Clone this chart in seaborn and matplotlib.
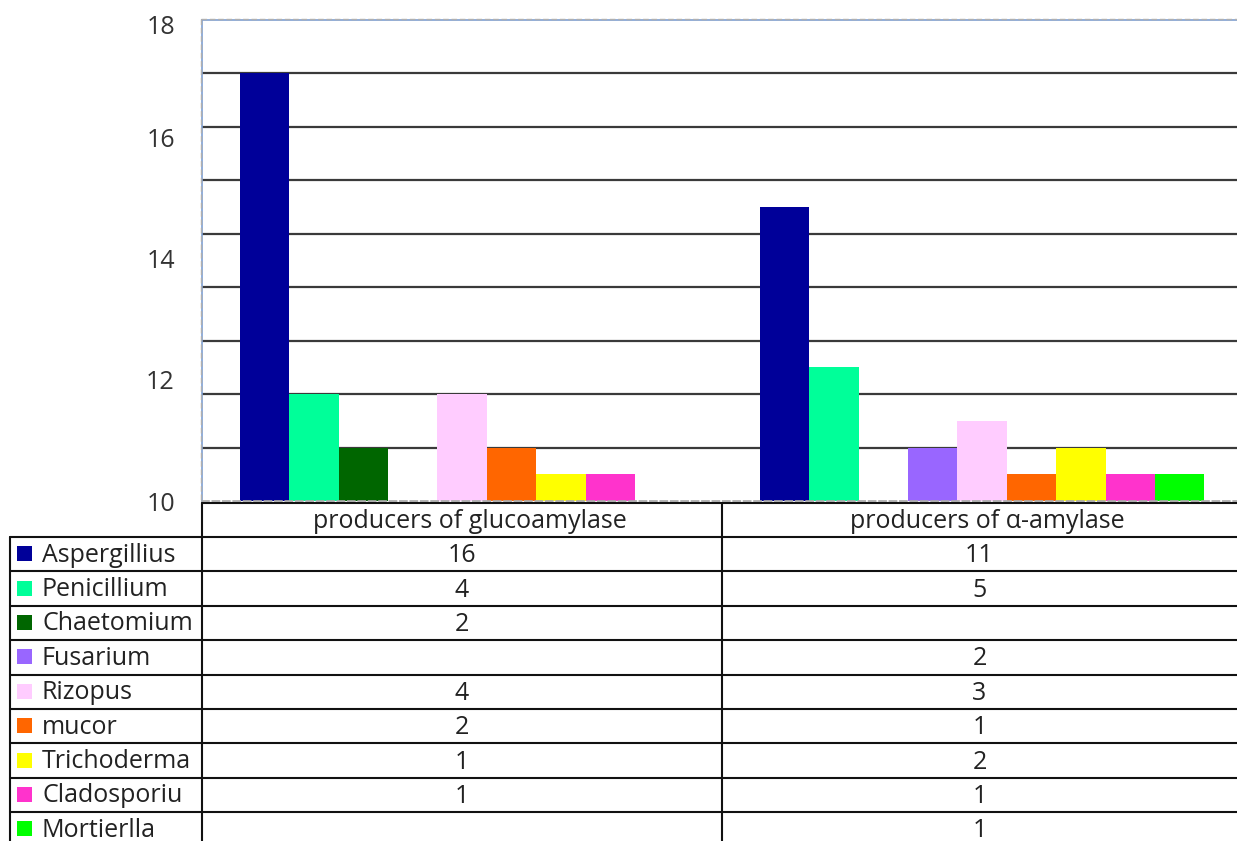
import numpy as np
import pandas as pd
import matplotlib
matplotlib.use("Agg")
import matplotlib.pyplot as plt
import seaborn as sns

# Fungal genera producing each enzyme (number of isolates)
genera = ["Aspergillius", "Penicillium", "Chaetomium", "Fusarium", "Rizopus",
          "mucor", "Trichoderma", "Cladosporiu", "Mortierlla"]
groups = ["producers of glucoamylase", "producers of α-amylase"]
glucoamylase = [16, 4, 2, np.nan, 4, 2, 1, 1, np.nan]
alpha_amylase = [11, 5, np.nan, 2, 3, 1, 2, 1, 1]
colors = ["#000099", "#00ff99", "#006600", "#9966ff", "#ffccff",
          "#ff6600", "#ffff00", "#ff33cc", "#00ff00"]
ytick_labels = ["10", "12", "14", "16", "18"]

rows = []
for g, vals in zip(groups, [glucoamylase, alpha_amylase]):
    for name, v in zip(genera, vals):
        rows.append({"group": g, "genus": name, "count": v})
df = pd.DataFrame(rows)

sns.set_theme(style="white")
plt.rcParams["font.family"] = ["Open Sans", "DejaVu Sans"]
FS = 18

W, H = 1237, 841
fig = plt.figure(figsize=(W / 100, H / 100), dpi=100)

# plot area in pixel terms
px_left, px_right, px_top, px_bottom = 202, 1237, 20, 501
ax = fig.add_axes([px_left / W, 1 - px_bottom / H,
                   (px_right - px_left) / W, (px_bottom - px_top) / H])

sns.barplot(data=df, x="group", y="count", hue="genus", hue_order=genera,
            order=groups, palette=colors, saturation=1, width=0.855,
            errorbar=None, linewidth=0, ax=ax, legend=False)

cat_px = (px_right - px_left + 5) / 2
ax.set_xlim(-0.5, -0.5 + (px_right - px_left) / cat_px)
ax.set_ylim(0, 18)
ax.set_axisbelow(True)
for yv in np.arange(2, 18, 2):
    ax.axhline(yv, color="#3a3a3a", lw=1.6, zorder=0)

# value-axis labels sit at evenly spaced positions, the top one pulled in
tick_pos = [0, 4.53, 9.06, 13.59, 17.85]
ax.set_yticks(tick_pos)
ax.set_yticklabels(ytick_labels, fontsize=FS, color="#333333")
ax.tick_params(axis="y", length=0, pad=19.5)
ax.set_xticks([])
ax.set_xlabel("")
ax.set_ylabel("")

for side in ["left", "top"]:
    ax.spines[side].set_color("#7f9fd2")
    ax.spines[side].set_linewidth(1.2)
ax.spines["bottom"].set_color("#aaaaaa")
ax.spines["bottom"].set_linestyle((0, (4, 2)))
ax.spines["right"].set_visible(False)

# data table underneath the chart
tab = fig.add_axes([0, 0, 1, 1])
tab.set_xlim(0, W)
tab.set_ylim(H, 0)
tab.axis("off")

# dashed frame just outside the plot area
tab.plot([px_left - 1.5, px_left - 1.5], [px_top - 1.5, px_bottom],
         color="#b0b0b0", lw=1, ls=(0, (4, 2)))
tab.plot([px_left - 1.5, W], [px_top - 1.5, px_top - 1.5],
         color="#b0b0b0", lw=1, ls=(0, (4, 2)))

x_leg, x_mid = 10, 722
col_centers = [(px_left + x_mid) / 2, (x_mid + W) / 2]
head_top, head_bot = 503, 537
row_h = 34.4
line_kw = dict(color="#111111", lw=1.5)

tab.plot([px_left, W], [head_top, head_top], **line_kw)
for xv in (px_left, x_mid):
    tab.plot([xv, xv], [head_top, H], **line_kw)
tab.plot([x_leg, x_leg], [head_bot, H], **line_kw)
for i in range(len(genera) + 1):
    yv = head_bot + i * row_h
    tab.plot([x_leg, W], [yv, yv], **line_kw)

for g, cx in zip(groups, col_centers):
    tab.text(cx + 8, (head_top + head_bot) / 2 + 1, g, ha="center",
             va="center", fontsize=FS, color="#222222")

for i, (name, col) in enumerate(zip(genera, colors)):
    yc = head_bot + (i + 0.5) * row_h
    tab.add_patch(plt.Rectangle((17, yc - 8), 15, 15, color=col, lw=0))
    tab.text(42, yc + 1, name, ha="left", va="center", fontsize=FS,
             color="#222222")
    for vals, cx in zip([glucoamylase, alpha_amylase], col_centers):
        v = vals[i]
        if not np.isnan(v):
            tab.text(cx, yc + 1.5, f"{int(v)}", ha="center", va="center",
                     fontsize=FS, color="#222222")

fig.savefig("out.png", dpi=100)
